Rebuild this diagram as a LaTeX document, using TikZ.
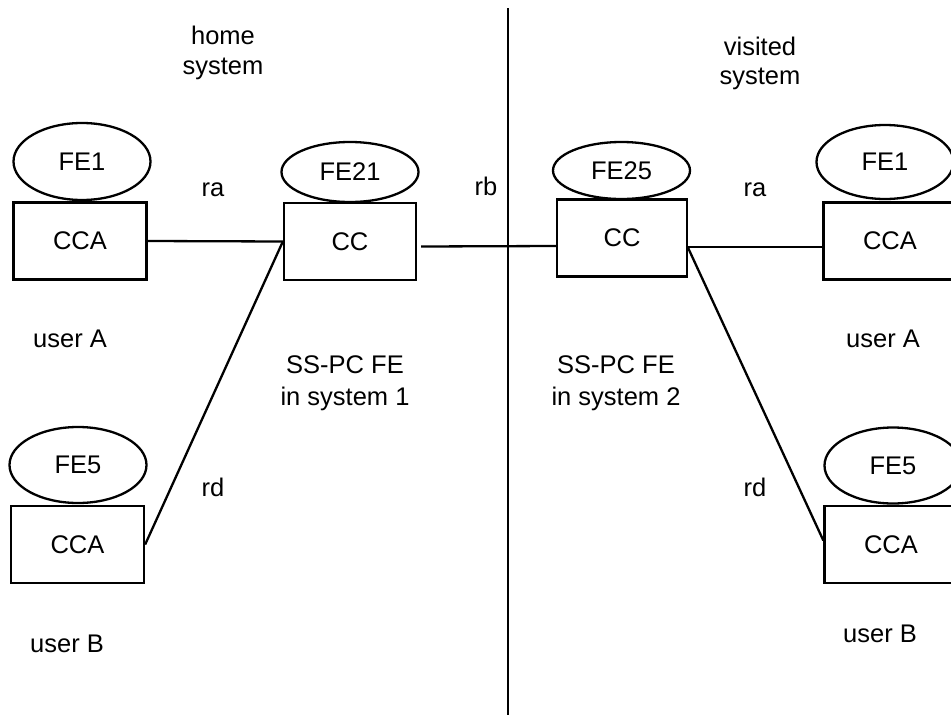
\documentclass[tikz,border=0pt]{standalone}
\usepackage{fontspec}
\setmainfont{Liberation Sans}
\usetikzlibrary{shapes.geometric}

\begin{document}
\begin{tikzpicture}[x=1pt, y=-1pt, line width=2.3pt,
  font=\fontsize{25.5}{30}\selectfont,
  fe/.style={draw, ellipse, inner sep=0pt, minimum width=137pt, minimum height=#1},
  fe/.default=76pt,
  box/.style={draw, rectangle, inner sep=0pt, minimum width=133pt, minimum height=77pt},
  twoline/.style={align=center, inner sep=0pt, font=\fontsize{25.5}{#1}\selectfont}]
\useasboundingbox (0,0) rectangle (951,715);
% home system
\node[box] (ccaA) at (80,241) {CCA};
\node[fe=77pt] (fe1A) at (82,161.5) {FE1};
\node[box] (ccaB) at (77.5,544.5) {CCA};
\node[fe] (fe5B) at (78,465) {FE5};
\node[box, minimum width=132pt] (cc1) at (350,241.5) {CC};
\node[fe=60pt] (fe21) at (350,172) {FE21};
% visited system
\node[box, minimum width=130pt] (cc2) at (622,238) {CC};
\node[fe=57pt] (fe25) at (621.5,170.5) {FE25};
\node[box] (ccaC) at (890,241) {CCA};
\node[fe=74pt] (fe1C) at (885,162) {FE1};
\node[box] (ccaD) at (891,544.5) {CCA};
\node[fe] (fe5D) at (893,465.5) {FE5};

% dividing line
\coordinate (divtop) at (508,8);
\coordinate (divbot) at (508,715);
\draw (divtop) -- (divbot);

\draw (ccaA.east) -- (cc1.west);
\draw (cc1.west) -- (ccaB.east);
\draw ([xshift=4pt,yshift=-5pt]cc1.east) -- ([yshift=-8pt]cc2.west);
\draw ([yshift=-9pt]cc2.east) -- ([yshift=-6pt]ccaC.west);
\draw ([yshift=-10pt]cc2.east) -- ([yshift=4pt]ccaD.west);

% texts
\node[twoline=29.5pt] (home) at (223,53) {home\\system};
\node[twoline=29.5pt] (visited) at (760,63.5) {visited\\system};
\node[twoline=32.5pt] (pc1) at (345,383) {SS-PC FE\\in system 1};
\node[twoline=32.5pt] (pc2) at (616,383) {SS-PC FE\\in system 2};
\node[anchor=base] (raA) at (213,196) {ra};
\node[anchor=base] (raC) at (755,196) {ra};
\node[anchor=base] (rb) at (486,195) {rb};
\node[anchor=base] (rdB) at (213,496) {rd};
\node[anchor=base] (rdD) at (755,496) {rd};
\node[anchor=base] (userA1) at (70,347) {user A};
\node[anchor=base] (userA2) at (883,347) {user A};
\node[anchor=base] (userB1) at (67,652) {user B};
\node[anchor=base] (userB2) at (880,642) {user B};
\end{tikzpicture}
\end{document}
